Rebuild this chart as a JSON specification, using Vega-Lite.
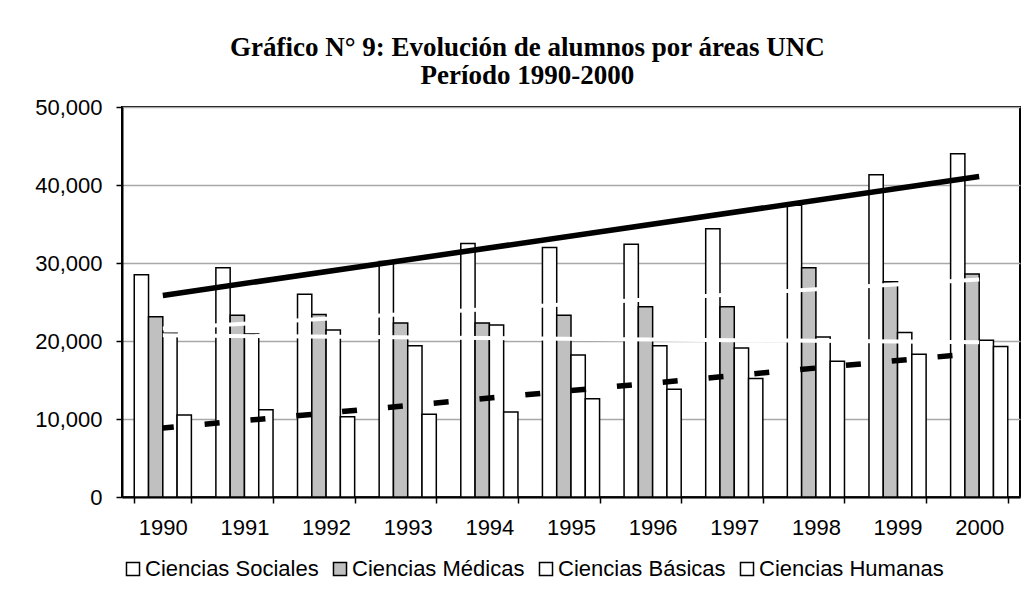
{
  "$schema": "https://vega.github.io/schema/vega-lite/v6.json",
  "width": 898,
  "height": 390,
  "autosize": {"type": "none"},
  "padding": {"left": 122, "top": 107, "right": 14, "bottom": 113},
  "background": "white",
  "title": {
    "text": ["Gráfico N° 9: Evolución de alumnos por áreas UNC", "Período 1990-2000"],
    "font": "Liberation Serif",
    "fontSize": 27,
    "fontWeight": "bold",
    "color": "black",
    "lineHeight": 28,
    "anchor": "middle",
    "frame": "bounds",
    "offset": 6
  },
  "config": {
    "font": "Liberation Sans",
    "view": {"stroke": "black", "strokeWidth": 2}
  },
  "data": {
    "values": [
      {"year": 1990, "area": "Ciencias Sociales", "value": 28500},
      {"year": 1991, "area": "Ciencias Sociales", "value": 29400},
      {"year": 1992, "area": "Ciencias Sociales", "value": 26000},
      {"year": 1993, "area": "Ciencias Sociales", "value": 30200},
      {"year": 1994, "area": "Ciencias Sociales", "value": 32500},
      {"year": 1995, "area": "Ciencias Sociales", "value": 32000},
      {"year": 1996, "area": "Ciencias Sociales", "value": 32400},
      {"year": 1997, "area": "Ciencias Sociales", "value": 34400},
      {"year": 1998, "area": "Ciencias Sociales", "value": 37400},
      {"year": 1999, "area": "Ciencias Sociales", "value": 41300},
      {"year": 2000, "area": "Ciencias Sociales", "value": 44000},
      {"year": 1990, "area": "Ciencias Médicas", "value": 23100},
      {"year": 1991, "area": "Ciencias Médicas", "value": 23300},
      {"year": 1992, "area": "Ciencias Médicas", "value": 23400},
      {"year": 1993, "area": "Ciencias Médicas", "value": 22300},
      {"year": 1994, "area": "Ciencias Médicas", "value": 22300},
      {"year": 1995, "area": "Ciencias Médicas", "value": 23300},
      {"year": 1996, "area": "Ciencias Médicas", "value": 24400},
      {"year": 1997, "area": "Ciencias Médicas", "value": 24400},
      {"year": 1998, "area": "Ciencias Médicas", "value": 29400},
      {"year": 1999, "area": "Ciencias Médicas", "value": 27600},
      {"year": 2000, "area": "Ciencias Médicas", "value": 28600},
      {"year": 1990, "area": "Ciencias Básicas", "value": 21000},
      {"year": 1991, "area": "Ciencias Básicas", "value": 20900},
      {"year": 1992, "area": "Ciencias Básicas", "value": 21400},
      {"year": 1993, "area": "Ciencias Básicas", "value": 19400},
      {"year": 1994, "area": "Ciencias Básicas", "value": 22050},
      {"year": 1995, "area": "Ciencias Básicas", "value": 18200},
      {"year": 1996, "area": "Ciencias Básicas", "value": 19400},
      {"year": 1997, "area": "Ciencias Básicas", "value": 19100},
      {"year": 1998, "area": "Ciencias Básicas", "value": 20500},
      {"year": 1999, "area": "Ciencias Básicas", "value": 21100},
      {"year": 2000, "area": "Ciencias Básicas", "value": 20100},
      {"year": 1990, "area": "Ciencias Humanas", "value": 10500},
      {"year": 1991, "area": "Ciencias Humanas", "value": 11200},
      {"year": 1992, "area": "Ciencias Humanas", "value": 10300},
      {"year": 1993, "area": "Ciencias Humanas", "value": 10600},
      {"year": 1994, "area": "Ciencias Humanas", "value": 10900},
      {"year": 1995, "area": "Ciencias Humanas", "value": 12600},
      {"year": 1996, "area": "Ciencias Humanas", "value": 13800},
      {"year": 1997, "area": "Ciencias Humanas", "value": 15200},
      {"year": 1998, "area": "Ciencias Humanas", "value": 17400},
      {"year": 1999, "area": "Ciencias Humanas", "value": 18300},
      {"year": 2000, "area": "Ciencias Humanas", "value": 19300}
    ]
  },
  "encoding": {
    "x": {
      "field": "year",
      "type": "ordinal",
      "scale": {"paddingInner": 0.3, "paddingOuter": 0.15},
      "axis": {
        "title": null,
        "labelAngle": 0,
        "labelFontSize": 22,
        "labelColor": "black",
        "labelFont": "Liberation Sans",
        "labelPadding": 14,
        "tickBand": "extent",
        "tickSize": 6,
        "tickColor": "black",
        "tickWidth": 1.5,
        "domainColor": "black",
        "domainWidth": 2,
        "grid": false
      }
    },
    "y": {
      "field": "value",
      "type": "quantitative",
      "scale": {"domain": [0, 50000], "nice": false},
      "axis": {
        "title": null,
        "values": [0, 10000, 20000, 30000, 40000, 50000],
        "labelExpr": "format(datum.value, ',')",
        "labelFontSize": 22,
        "labelColor": "black",
        "labelFont": "Liberation Sans",
        "labelPadding": 14,
        "tickSize": 6,
        "tickColor": "black",
        "tickWidth": 1.5,
        "domainColor": "black",
        "domainWidth": 2,
        "grid": true,
        "gridColor": "#a8a8a8",
        "gridWidth": 1.5
      }
    }
  },
  "layer": [
    {
      "mark": {"type": "bar", "stroke": "black", "strokeWidth": 1.5, "opacity": 1},
      "encoding": {
        "xOffset": {
          "field": "area",
          "type": "nominal",
          "sort": ["Ciencias Sociales", "Ciencias Médicas", "Ciencias Básicas", "Ciencias Humanas"],
          "scale": {"paddingInner": 0, "paddingOuter": 0}
        },
        "color": {
          "field": "area",
          "type": "nominal",
          "sort": ["Ciencias Sociales", "Ciencias Médicas", "Ciencias Básicas", "Ciencias Humanas"],
          "scale": {
            "domain": ["Ciencias Sociales", "Ciencias Médicas", "Ciencias Básicas", "Ciencias Humanas"],
            "range": ["white", "#c0c0c0", "white", "white"]
          },
          "legend": {
            "title": null,
            "orient": "bottom",
            "direction": "horizontal",
            "symbolType": "square",
            "symbolSize": 170,
            "symbolStrokeColor": "black",
            "symbolStrokeWidth": 1.5,
            "symbolOpacity": 1,
            "labelFontSize": 22,
            "labelFont": "Liberation Sans",
            "labelColor": "black",
            "labelLimit": 0,
            "labelOffset": 1,
            "columnPadding": 10,
            "offset": 20
          }
        }
      }
    },
    {
      "transform": [
        {"filter": "datum.area === 'Ciencias Sociales'"},
        {"regression": "value", "on": "year"}
      ],
      "mark": {"type": "line", "color": "black", "strokeWidth": 5.5},
      "encoding": {"y": {"field": "value", "type": "quantitative"}}
    },
    {
      "transform": [
        {"filter": "datum.area === 'Ciencias Médicas'"},
        {"regression": "value", "on": "year"}
      ],
      "mark": {"type": "line", "color": "white", "strokeWidth": 4},
      "encoding": {"y": {"field": "value", "type": "quantitative"}}
    },
    {
      "transform": [
        {"filter": "datum.area === 'Ciencias Básicas'"},
        {"regression": "value", "on": "year"}
      ],
      "mark": {"type": "line", "color": "white", "strokeWidth": 4},
      "encoding": {"y": {"field": "value", "type": "quantitative"}}
    },
    {
      "transform": [
        {"filter": "datum.area === 'Ciencias Humanas'"},
        {"regression": "value", "on": "year"}
      ],
      "mark": {"type": "line", "color": "black", "strokeWidth": 5.5, "strokeDash": [15, 31], "strokeDashOffset": 4},
      "encoding": {"y": {"field": "value", "type": "quantitative"}}
    }
  ]
}
